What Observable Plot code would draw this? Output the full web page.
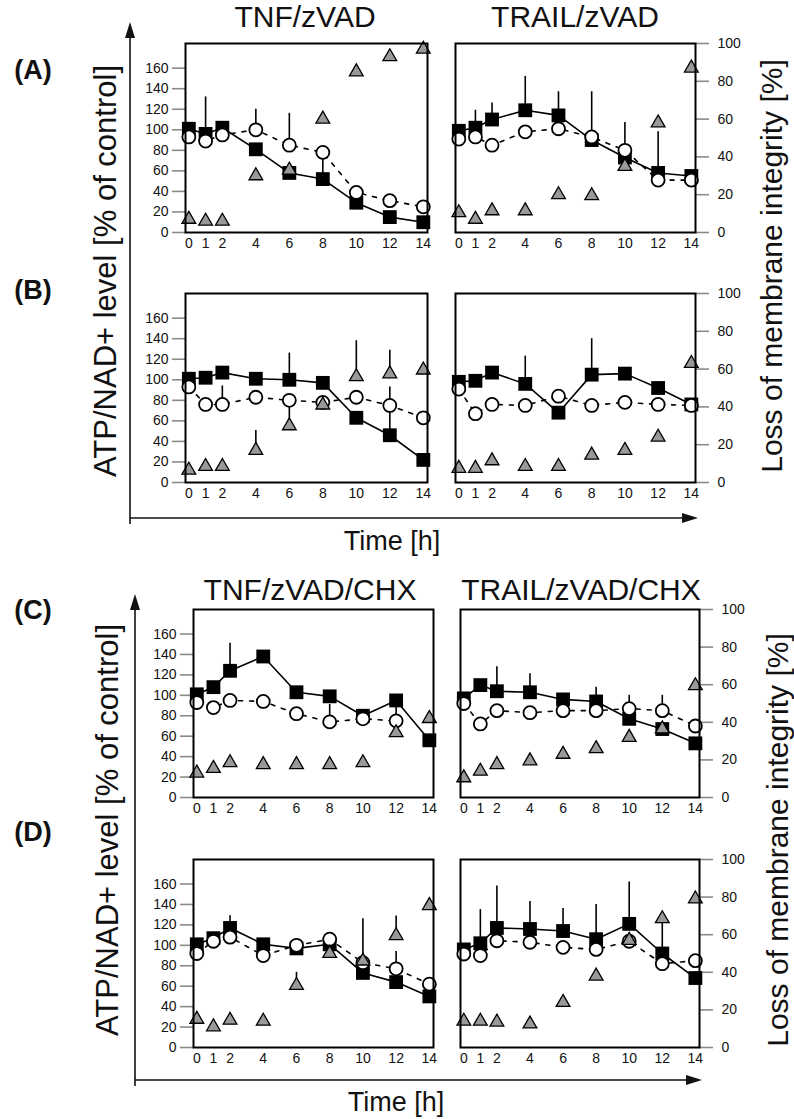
<!DOCTYPE html>
<html><head><meta charset="utf-8">
<script src="https://cdn.jsdelivr.net/npm/d3@7"></script>
<script src="https://cdn.jsdelivr.net/npm/@observablehq/plot@0.6"></script>
<style>
body{margin:0;background:#fff;}
#fig{position:relative;width:794px;height:1119px;font-family:"Liberation Sans",Arial,sans-serif;color:#111;overflow:hidden;background:#fff}
.t{position:absolute;white-space:nowrap;line-height:1}
.c{transform:translate(-50%,-50%)}
.rot{transform:translate(-50%,-50%) rotate(-90deg)}
</style></head><body><div id="fig"></div>
<script>
// ---------- data ----------
const times = [0, 1, 2, 4, 6, 8, 10, 12, 14];
const xTicks = [0, 1, 2, 4, 6, 8, 10, 12, 14];
const leftTicks = [0, 20, 40, 60, 80, 100, 120, 140, 160];
const rightTicks = [0, 20, 40, 60, 80, 100];
const leftMax = 184; // left-axis value at the frame top (= 100 % on the right axis)

// (A) TNF/zVAD
const A1_atp = [101, 96, 102, 81, 58, 52, 29, 15, 10];
const A1_nad = [93, 89, 95, 100, 85, 78, 39, 31, 25];
const A1_mem = [7, 6, 6, 30, 33, 60, 85, 93, 97];
const A1_err = [["atp", 1, 132], ["nad", 4, 120], ["nad", 6, 116], ["atp", 8, 75]];
// (A) TRAIL/zVAD
const A2_atp = [99, 102, 110, 119, 114, 90, 73, 58, 55];
const A2_nad = [91, 93, 85, 98, 101, 93, 80, 51, 51];
const A2_mem = [10.5, 7, 11.5, 11.5, 20, 19.5, 35, 58, 87];
const A2_err = [["atp", 1, 119], ["atp", 2, 126], ["atp", 4, 152], ["atp", 6, 137], ["atp", 8, 137], ["nad", 10, 107], ["atp", 12, 98]];
// (B) TNF/zVAD
const B1_atp = [101, 102, 107, 101, 100, 97, 63, 46, 22];
const B1_nad = [93, 76, 76, 83, 80, 78, 83, 75, 63];
const B1_mem = [6.5, 8.5, 8.5, 17, 30, 41, 56, 57.5, 59.5];
const B1_err = [["nad", 2, 94], ["mem", 4, 27.5], ["atp", 6, 126], ["mem", 6, 42], ["mem", 10, 75], ["mem", 12, 70], ["nad", 12, 93], ["atp", 12, 69]];
// (B) TRAIL/zVAD
const B2_atp = [98, 99, 107, 96, 68, 105, 106, 92, 76];
const B2_nad = [91, 67, 76, 75, 84, 75, 78, 76, 75];
const B2_mem = [7.5, 7.5, 11.5, 8.5, 8.5, 14.5, 17, 24, 63];
const B2_err = [["atp", 4, 123], ["atp", 8, 140]];
// (C) TNF/zVAD/CHX
const C1_atp = [101, 108, 124, 138, 103, 99, 80, 95, 56];
const C1_nad = [93, 88, 95, 94, 82, 74, 77, 75, null];
const C1_mem = [13, 15.5, 18.5, 17.5, 17.5, 17.5, 18.5, 34.5, 42];
const C1_err = [["atp", 2, 151], ["nad", 8, 91], ["nad", 12, 90]];
// (C) TRAIL/zVAD/CHX
const C2_atp = [97, 110, 104, 103, 96, 94, 77, 67, 53];
const C2_nad = [92, 72, 85, 83, 85, 85, 87, 85, 70];
const C2_mem = [10.5, 14, 17.5, 19.5, 23, 26, 32, 36.5, 59.5];
const C2_err = [["atp", 2, 128], ["atp", 4, 121], ["atp", 8, 108], ["nad", 10, 100], ["nad", 12, 100]];
// (D) TNF/zVAD/CHX
const D1_atp = [101, 107, 117, 101, 97, 101, 73, 64, 50];
const D1_nad = [92, 104, 108, 90, 100, 106, 83, 77, 62];
const D1_mem = [15, 11, 14.5, 14, 33, 50, 46, 59.5, 75.5];
const D1_err = [["atp", 2, 129], ["mem", 6, 40], ["mem", 10, 68.5], ["mem", 12, 70], ["nad", 12, 94]];
// (D) TRAIL/zVAD/CHX
const D2_atp = [96, 102, 117, 116, 114, 106, 121, 92, 68];
const D2_nad = [91.5, 90, 104.5, 103, 98, 96, 104, 82, 85];
const D2_mem = [14, 14, 13.5, 12.5, 24, 38, 57, 68.5, 79];
const D2_err = [["atp", 1, 135], ["atp", 2, 158], ["atp", 4, 143], ["atp", 6, 136], ["atp", 8, 140], ["atp", 10, 162], ["atp", 12, 122]];

// ---------- drawing ----------
const fig = document.getElementById("fig");
const FONT = "Liberation Sans, Arial, Helvetica, sans-serif";

function panel(atp, nad, mem, err, side, box) {
  const [x0, y0, x1, y1] = box;
  const mL = side === "left" ? 62 : 4, mR = side === "left" ? 4 : 62, mT = 8, mB = 28;
  const K = leftMax / 100;
  const rows = times.map((t, i) => ({t, atp: atp[i], nad: nad[i], mem: mem[i] == null ? null : mem[i] * K}));
  const errRows = err.map(([s, t, hi]) => {
    const i = times.indexOf(t);
    const lo = s === "mem" ? mem[i] * K : (s === "atp" ? atp[i] : nad[i]);
    return {t, lo, hi: s === "mem" ? hi * K : hi};
  });
  const yAxis = side === "left"
    ? Plot.axisY({anchor: "left", ticks: leftTicks, tickSize: 13, tickPadding: 4, stroke: "#8a8a8a", strokeWidth: 1.6, fill: "#111", fontSize: 14, label: null})
    : Plot.axisY({anchor: "right", ticks: rightTicks.map(v => v * K), tickFormat: d => String(Math.round(d / K)), tickSize: 13, tickPadding: 9, stroke: "#8a8a8a", strokeWidth: 1.6, fill: "#111", fontSize: 14, label: null});
  const svg = Plot.plot({
    width: (x1 - x0) + mL + mR, height: (y1 - y0) + mT + mB,
    marginLeft: mL, marginRight: mR, marginTop: mT, marginBottom: mB,
    style: {fontFamily: FONT, fontSize: "14px", background: "transparent", color: "#111"},
    x: {domain: [-0.2, 14.25]},
    y: {domain: [0, leftMax]},
    marks: [
      Plot.axisX({ticks: xTicks, tickSize: 0, tickPadding: 6, fill: "#111", fontSize: 14, label: null}),
      yAxis,
      Plot.line(rows.filter(d => d.atp != null), {x: "t", y: "atp", stroke: "#000", strokeWidth: 1.6}),
      Plot.line(rows.filter(d => d.nad != null), {x: "t", y: "nad", stroke: "#000", strokeWidth: 1.6, strokeDasharray: "4,7"}),
      Plot.ruleX(errRows, {x: "t", y1: "lo", y2: "hi", stroke: "#000", strokeWidth: 1.6}),
      Plot.dot(rows.filter(d => d.atp != null), {x: "t", y: "atp", symbol: "square", r: 7.8, fill: "#000", stroke: "none"}),
      Plot.dot(rows.filter(d => d.nad != null), {x: "t", y: "nad", symbol: "circle", r: 6.5, fill: "#fff", stroke: "#000", strokeWidth: 1.8}),
      Plot.dot(rows.filter(d => d.mem != null), {x: "t", y: "mem", symbol: "triangle", r: 5.1, fill: "#999", stroke: "#000", strokeWidth: 1.3}),
      Plot.frame({stroke: "#000", strokeWidth: 2})
    ]
  });
  svg.style.position = "absolute";
  svg.style.left = (x0 - mL) + "px";
  svg.style.top = (y0 - mT) + "px";
  fig.appendChild(svg);
}

panel(A1_atp, A1_nad, A1_mem, A1_err, "left",  [185, 43, 427, 232]);
panel(A2_atp, A2_nad, A2_mem, A2_err, "right", [455, 43, 695, 232]);
panel(B1_atp, B1_nad, B1_mem, B1_err, "left",  [185, 293, 427, 482]);
panel(B2_atp, B2_nad, B2_mem, B2_err, "right", [455, 293, 695, 482]);
panel(C1_atp, C1_nad, C1_mem, C1_err, "left",  [193, 609, 433, 797]);
panel(C2_atp, C2_nad, C2_mem, C2_err, "right", [460, 609, 699, 797]);
panel(D1_atp, D1_nad, D1_mem, D1_err, "left",  [193, 859, 433, 1047]);
panel(D2_atp, D2_nad, D2_mem, D2_err, "right", [460, 859, 699, 1047]);

// big axis arrows (decoration)
const NS = "http://www.w3.org/2000/svg";
const deco = document.createElementNS(NS, "svg");
deco.setAttribute("width", 794); deco.setAttribute("height", 1119);
deco.style.position = "absolute"; deco.style.left = "0"; deco.style.top = "0"; deco.style.pointerEvents = "none";
deco.innerHTML = `
 <g stroke="#111" stroke-width="1.6" fill="none">
  <line x1="130" y1="524" x2="130" y2="34"/><line x1="130" y1="518" x2="686" y2="518"/>
  <line x1="135" y1="1086" x2="135" y2="606"/><line x1="135" y1="1080" x2="690" y2="1080"/>
 </g>
 <g fill="#111">
  <polygon points="130,22 125,38 135,38"/><polygon points="698,518 682,513 682,523"/>
  <polygon points="135,594 130,610 140,610"/><polygon points="702,1080 686,1075 686,1085"/>
 </g>`;
fig.appendChild(deco);

function txt(s, x, y, size, cls, weight) {
  const d = document.createElement("div");
  d.className = "t " + cls;
  d.textContent = s;
  d.style.left = x + "px"; d.style.top = y + "px";
  d.style.fontSize = size + "px";
  if (weight) d.style.fontWeight = weight;
  fig.appendChild(d);
}
txt("TNF/zVAD", 305, 17, 30, "c");
txt("TRAIL/zVAD", 575, 17, 30, "c");
txt("TNF/zVAD/CHX", 310, 590, 30, "c");
txt("TRAIL/zVAD/CHX", 581, 590, 30, "c");
txt("(A)", 33, 70, 27, "c", "bold");
txt("(B)", 33, 290, 27, "c", "bold");
txt("(C)", 33, 610, 27, "c", "bold");
txt("(D)", 33, 832, 27, "c", "bold");
txt("Time [h]", 392, 541, 27, "c");
txt("Time [h]", 396, 1102, 27, "c");
txt("ATP/NAD+ level [% of control]", 105, 271, 31, "rot");
txt("ATP/NAD+ level [% of control]", 107, 830, 31, "rot");
txt("Loss of membrane integrity [%]", 772, 266, 30, "rot");
txt("Loss of membrane integrity [%]", 778, 840, 30, "rot");
</script>
</body></html>
